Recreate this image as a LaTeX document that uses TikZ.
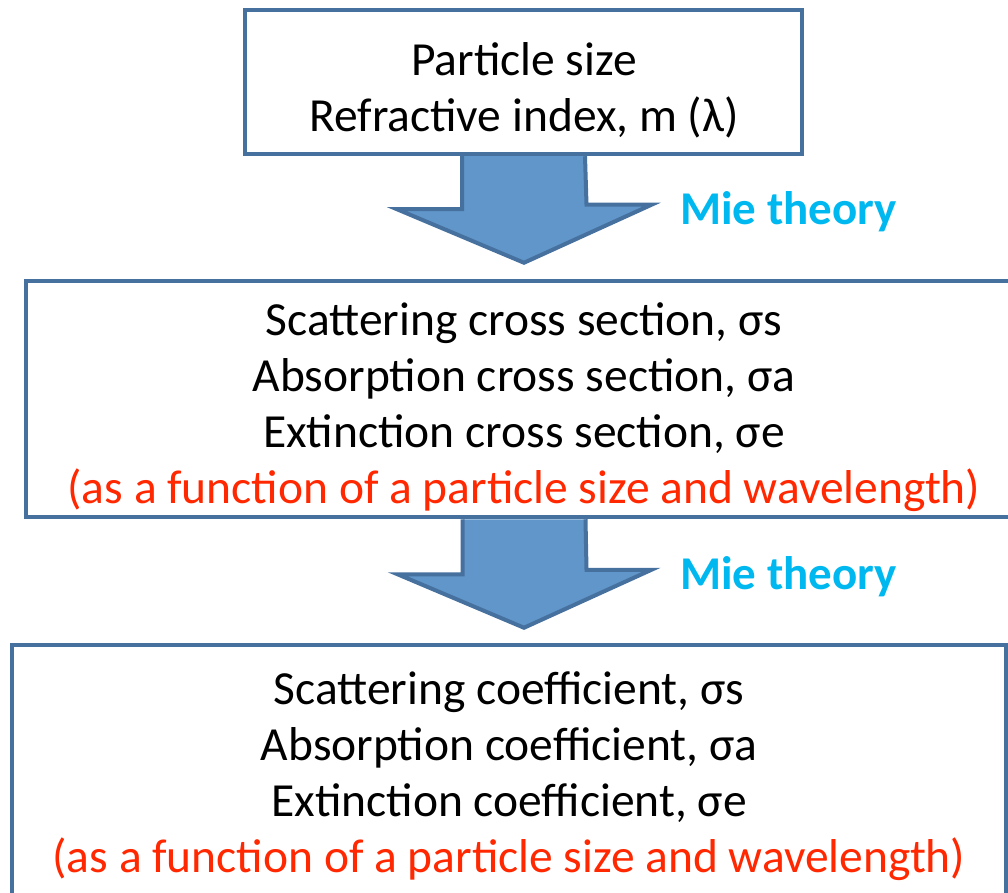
\documentclass[tikz,border=0pt]{standalone}
\usepackage{fontspec}
\setmainfont{Carlito}
\usetikzlibrary{calc}
\begin{document}
\begin{tikzpicture}[x=1pt,y=-1pt,
  box/.style={draw=boxline, line width=4.5pt, fill=white, inner sep=0pt},
  txt/.style={align=center, inner sep=0pt, font=\fontsize{47.5}{56}\selectfont},
  miearrow/.style={draw=boxline, line width=4pt, fill=arrowfill, line join=miter},
  mie/.style={text=miecol, font=\fontsize{47}{52}\selectfont\bfseries, anchor=west, inner sep=0pt}]
\definecolor{boxline}{RGB}{70,112,158}
\definecolor{arrowfill}{RGB}{96,150,201}
\definecolor{miecol}{RGB}{0,184,240}
\definecolor{redtxt}{RGB}{255,40,0}
\useasboundingbox (0,0) rectangle (1008,893);
\clip (0,0) rectangle (1008,893);
% boxes
\node[box, minimum width=557pt, minimum height=144pt] (b1) at (523.5,82) {};
\node[txt] (t1) at (524,90.5) {Particle size\\Refractive index, m (λ)};
\node[box, minimum width=996pt, minimum height=236pt] (b2) at (524,399) {};
\node[txt] (t2) at (524,407)
  {Scattering cross section, σs\\Absorption cross section, σa\\Extinction cross section, σe\\
   \textcolor{redtxt}{(as a function of a particle size and wavelength)}};
\node[box, minimum width=994pt, minimum height=275pt] (b3) at (509,782.5) {};
\node[txt, anchor=north] (t3) at (509,671)
  {Scattering coefficient, σs\\Absorption coefficient, σa\\Extinction coefficient, σe\\
   \textcolor{redtxt}{(as a function of a particle size and wavelength)}};
% arrows
\draw[miearrow] ([xshift=-61.5pt]b1.south) -- ++(0,53) -- ++(-65,0) -- ($(b2.north)+(0,-16)$) coordinate (tip1)
  -- ++(127.5,-58) -- ++(-65,0) -- ([xshift=61.5pt]b1.south);
\draw[miearrow] ([xshift=-61.5pt]b2.south) -- ++(0,55) -- ++(-65,0) -- ($(b3.north)+(15,-15)$) coordinate (tip2)
  -- ++(127.5,-58) -- ++(-65,0) -- ([xshift=61.5pt]b2.south);
% labels
\node[mie] (m1) at (680,212) {Mie theory};
\node[mie] (m2) at (680,577) {Mie theory};
\end{tikzpicture}
\end{document}
